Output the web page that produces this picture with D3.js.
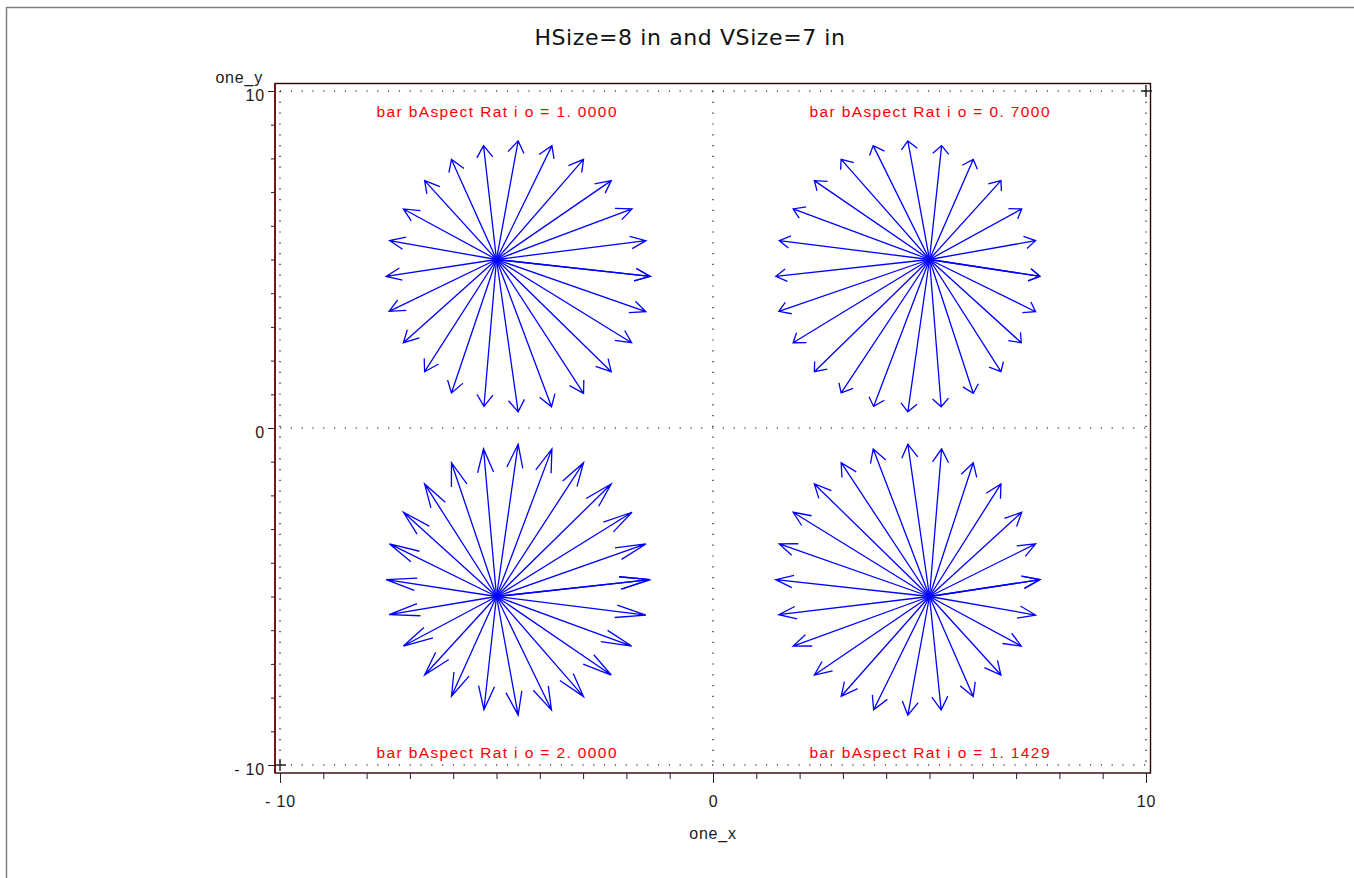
<!DOCTYPE html>
<html>
<head>
<meta charset="UTF-8">
<title>barbAspectRatio</title>
<script src="https://d3js.org/d3.v7.min.js"></script>
<style>
  body { margin: 0; background: #fff; }
  .tick text { font-family: "Liberation Sans", Arial, sans-serif; font-size: 16px; fill: #1a1a1a; letter-spacing: 0.8px; }
  .tick line { stroke: #222; }
</style>
</head>
<body>
<div id="chart"></div>
<script>
// arrow origins of the four stars, and the centre of each ring of tips
var starX = [-5, 5, -5, 5];
var starY = [5, 5, -5, -5];
var ringX = [-4.5, 4.5, -4.5, 4.5];
var ringY = [4.5, 4.5, -4.5, -4.5];
var barbRatio = [1.0, 0.7, 2.0, 1.1429];
var barbLabels = ["bar bAspect Rat i o = 1. 0000", "bar bAspect Rat i o = 0. 7000",
                  "bar bAspect Rat i o = 2. 0000", "bar bAspect Rat i o = 1. 1429"];
var labelX = [-5, 5, -5, 5];
var labelY = [9.22, 9.22, -9.78, -9.78];

// tip offsets from the ring centre (read every 15 deg, first one repeated at the end)
var tipDx = [3.05, 2.95, 2.63, 2.15, 1.51, 0.78, 0, -0.80, -1.54, -2.16, -2.65, -2.97, -3.05,
             -2.98, -2.65, -2.16, -1.54, -0.79, 0, 0.77, 1.51, 2.15, 2.62, 2.95, 3.05];
var tipDy = [0, 1.06, 2.0, 2.84, 3.47, 3.88, 4.02, 3.88, 3.47, 2.84, 2.0, 1.06, 0,
             -1.04, -1.97, -2.83, -3.46, -3.86, -4.02, -3.87, -3.47, -2.83, -1.97, -1.05, 0];

var cornerMarks = [[-10, -10], [10, 10]];
var majorTicks = [-10, 0, 10];
var majorLabels = ["- 10", "0", "10"];
var minorTicks = d3.range(-10, 11, 1);

var W = 1354, H = 878;
var svg = d3.select("#chart").append("svg")
    .attr("width", W)
    .attr("height", H);

// page border
svg.append("rect")
    .attr("x", 6.5).attr("y", 7.5)
    .attr("width", 1400).attr("height", 900)
    .attr("fill", "none").attr("stroke", "#808080").attr("stroke-width", 1.5);

svg.append("text")
    .attr("x", 690).attr("y", 45)
    .attr("text-anchor", "middle")
    .style("font-family", "Tahoma, 'DejaVu Sans', sans-serif")
    .style("font-size", "22px")
    .style("letter-spacing", "0.6px")
    .style("fill", "#111")
    .text("HSize=8 in and VSize=7 in");

var x = d3.scaleLinear().domain([-10, 10]).range([280, 1146]);
var y = d3.scaleLinear().domain([-10, 10]).range([765, 91]);

var frame = {left: 275, top: 83.5, right: 1150.5, bottom: 773};

// dotted reference lines
var dots = svg.append("g")
    .attr("stroke", "#000").attr("stroke-width", 1.2)
    .attr("stroke-dasharray", "1.2 9.6");
[-10, 0, 10].forEach(function (v) {
    dots.append("line").attr("x1", x(-10)).attr("x2", x(10)).attr("y1", y(v)).attr("y2", y(v));
    dots.append("line").attr("y1", y(10)).attr("y2", y(-10)).attr("x1", x(v)).attr("x2", x(v));
});

// frame
svg.append("rect")
    .attr("x", frame.left).attr("y", frame.top)
    .attr("width", frame.right - frame.left).attr("height", frame.bottom - frame.top)
    .attr("fill", "none").attr("stroke", "#2a0505").attr("stroke-width", 1.4);
svg.append("line")
    .attr("x1", frame.left).attr("x2", frame.left)
    .attr("y1", frame.top).attr("y2", frame.bottom)
    .attr("stroke", "#7a1414").attr("stroke-width", 2);

// axes: minor ticks every unit, labelled major ticks
var gx = svg.append("g").attr("transform", "translate(0," + frame.bottom + ")");
gx.append("g").call(d3.axisBottom(x).tickValues(minorTicks).tickSize(6).tickFormat(""));
gx.append("g").call(d3.axisBottom(x).tickValues(majorTicks).tickSize(10).tickPadding(13)
    .tickFormat(function (d, i) { return majorLabels[i]; }));
gx.selectAll(".domain").remove();

var gy = svg.append("g").attr("transform", "translate(" + frame.left + ",0)");
gy.append("g").call(d3.axisLeft(y).tickValues(minorTicks).tickSize(4).tickFormat(""));
gy.append("g").call(d3.axisLeft(y).tickValues(majorTicks).tickSize(7).tickPadding(3)
    .tickFormat(function (d, i) { return majorLabels[i]; }));
gy.selectAll(".domain").remove();
gy.selectAll("text").attr("dy", "0.6em");

svg.append("text")
    .attr("x", x(0)).attr("y", 839)
    .attr("text-anchor", "middle")
    .style("font-family", "'Liberation Sans', Arial, sans-serif")
    .style("font-size", "16px").style("letter-spacing", "0.8px").style("fill", "#1a1a1a")
    .text("one_x");
svg.append("text")
    .attr("x", 263).attr("y", 83)
    .attr("text-anchor", "end")
    .style("font-family", "'Liberation Sans', Arial, sans-serif")
    .style("font-size", "16px").style("letter-spacing", "0.8px").style("fill", "#1a1a1a")
    .text("one_y");

// corner plus marks
svg.selectAll(".mark")
    .data(cornerMarks)
    .enter().append("path")
    .attr("class", "mark")
    .attr("d", function (d) {
        var px = x(d[0]), py = y(d[1]);
        return "M" + (px - 5) + "," + py + "H" + (px + 6) + "M" + px + "," + (py - 6) + "V" + (py + 6);
    })
    .attr("stroke", "#222").attr("stroke-width", 1.4);

// arrows
var arrows = [];
starX.forEach(function (sx, s) {
    tipDx.forEach(function (tdx, i) {
        arrows.push({x0: sx, y0: starY[s], x1: ringX[s] + tdx, y1: ringY[s] + tipDy[i], r: barbRatio[s]});
    });
});

var headHalf = 0.185;   // half width of the barb, data units
var headUnit = 0.35;    // barb length per unit of aspect ratio

svg.append("g").selectAll("path")
    .data(arrows)
    .enter().append("path")
    .attr("d", function (d) {
        var dx = d.x1 - d.x0, dy = d.y1 - d.y0;
        var len = Math.sqrt(dx * dx + dy * dy);
        var ux = dx / len, uy = dy / len;
        var L = headUnit * d.r;
        var bx = d.x1 - L * ux, by = d.y1 - L * uy;
        return "M" + x(d.x0) + "," + y(d.y0) + "L" + x(d.x1) + "," + y(d.y1) +
            "M" + x(bx - headHalf * uy) + "," + y(by + headHalf * ux) +
            "L" + x(d.x1) + "," + y(d.y1) +
            "L" + x(bx + headHalf * uy) + "," + y(by - headHalf * ux);
    })
    .attr("fill", "none")
    .attr("stroke", "#0000ff")
    .attr("stroke-width", 1.3);

// red captions
svg.selectAll(".cap")
    .data(barbLabels)
    .enter().append("text")
    .attr("class", "cap")
    .attr("x", function (d, i) { return x(labelX[i]); })
    .attr("y", function (d, i) { return y(labelY[i]); })
    .attr("text-anchor", "middle")
    .attr("textLength", 240)
    .attr("lengthAdjust", "spacing")
    .style("font-family", "'Liberation Sans', Arial, sans-serif")
    .style("font-size", "15.5px")
    .style("fill", "#ff0000")
    .text(function (d) { return d; });
</script>
</body>
</html>
